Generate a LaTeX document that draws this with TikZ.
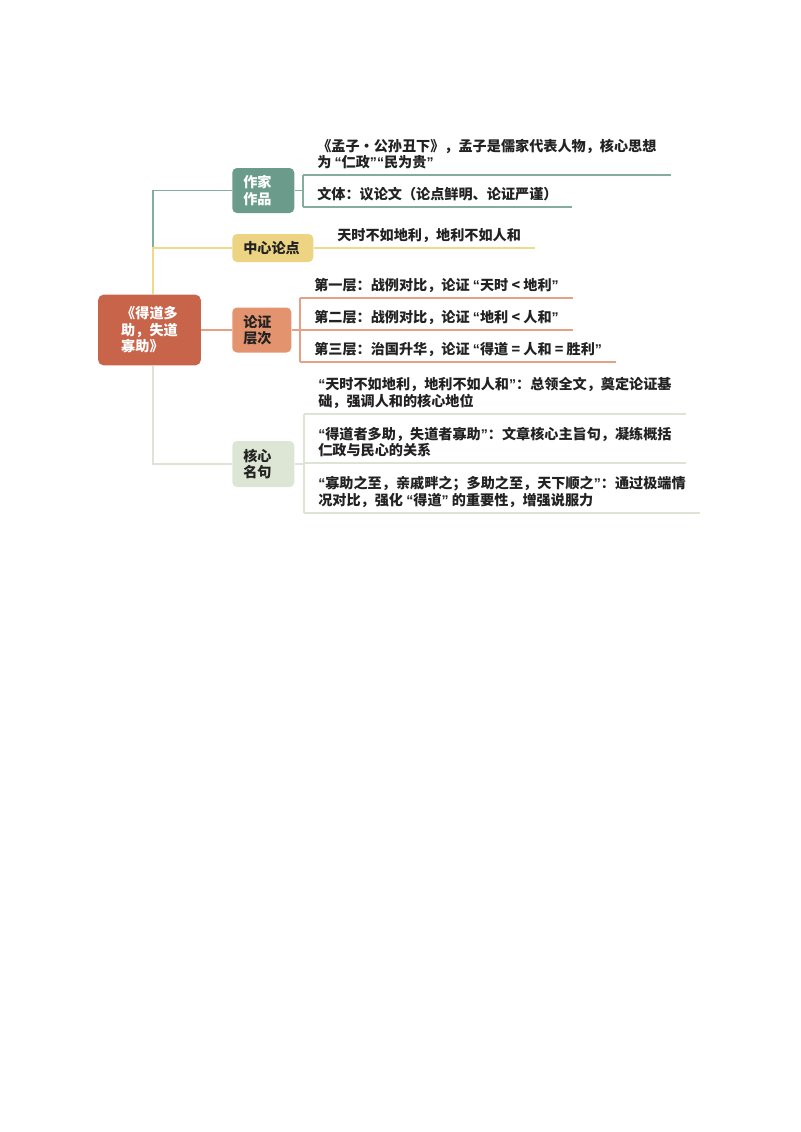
\documentclass[tikz,border=0pt]{standalone}
\usepackage{fontspec}
\usepackage{tikz}
\usetikzlibrary{calc}
\usetikzlibrary{positioning}
\setmainfont{Noto Sans CJK SC}
\newfontfamily\quotefont{Liberation Sans}
\newcommand{\oq}{{\quotefont “}}
\newcommand{\cq}{{\quotefont ”}}
\definecolor{rootred}{HTML}{C8644A}
\definecolor{tealbox}{HTML}{6B9B8B}
\definecolor{tealline}{HTML}{86AC9E}
\definecolor{yellowbox}{HTML}{EDD483}
\definecolor{yellowline}{HTML}{EFD98F}
\definecolor{orangebox}{HTML}{E4936F}
\definecolor{orangeline}{HTML}{E6A083}
\definecolor{greenbox}{HTML}{DDE6D4}
\definecolor{greenline}{HTML}{DDE4D6}
\definecolor{darktext}{HTML}{222222}

\begin{document}
\begin{tikzpicture}
			[
			x=0.75pt, y=-0.75pt,
			font=\fontsize{10.6pt}{12.4pt}\selectfont\bfseries,
			text=darktext
			]
			
			% Box styles: root, main topic, leaf
			\tikzstyle{root node}=[rectangle,rounded corners=4pt,fill=rootred,text=white,minimum width=77pt,minimum height=53pt,align=left];
			\tikzstyle{main node}=[rectangle,rounded corners=3.5pt,anchor=west,inner xsep=8.25pt,inner ysep=0pt,align=left];
			\tikzstyle{leaf node}=[anchor=south west,inner xsep=10.5pt,inner ysep=4pt,align=left];
			
			% Line widths for branches and leaves
			\tikzstyle{branch}=[line width=1.3pt];
			\tikzstyle{twig}=[line width=1pt];
			
			\useasboundingbox (0,0) rectangle (800,1132);
			
			% The root
			\node(root)[root node] at (149.5,330){《得道多\\助，失道\\寡助》};
			
			% Main topics
			\node(zuojia)[main node,fill=tealbox,text=white,text width=30pt,minimum height=33.75pt] at (232,190.5){作家\\作品};
			\node(zhongxin)[main node,fill=yellowbox,text width=44.25pt,minimum height=21pt] at (232,248){中心论点};
			\node(lunzheng)[main node,fill=orangebox,text width=27.75pt,minimum height=33.75pt] at (232,330){论证\\层次};
			\node(hexin)[main node,fill=greenbox,text width=30pt,minimum height=34.5pt] at (232,464){核心\\名句};
			
			% Root to main topics
			\draw[branch,tealline]([xshift=2.6pt]root.north) |- (zuojia.west);
			\draw[branch,yellowline]([xshift=2.6pt]root.north) |- (zhongxin.west);
			\draw[branch,orangeline](root.east) -- (lunzheng.west);
			\draw[branch,greenline]([xshift=2.6pt]root.south) |- (hexin.west);
			
			% Leaves
			% author and work
			\node(zj1)[leaf node] at (303,175){《孟子·公孙丑下》，孟子是儒家代表人物，核心思想\\为 \oq 仁政\cq\oq 民为贵\cq};
			\node(zj2)[leaf node] at (303,207){文体：议论文（论点鲜明、论证严谨）};
			\draw[twig,tealline](zuojia.east) -- (zuojia.east -| zj1.south west);
			\draw[twig,tealline](zj1.south west) -- (zj2.south west);
			\foreach \x in {1, 2} \draw[twig,tealline](zj\x.south west) -- (zj\x.south east);
			
			% central thesis
			\node(zx1)[leaf node] at (323,248){天时不如地利，地利不如人和};
			\draw[twig,yellowline](zhongxin.east) -- (zx1.south east);
			
			% argument levels
			\node(lz1)[leaf node] at (300,298){第一层：战例对比，论证 \oq 天时 < 地利\cq};
			\node(lz2)[leaf node] at (300,330){第二层：战例对比，论证 \oq 地利 < 人和\cq};
			\node(lz3)[leaf node] at (300,362){第三层：治国升华，论证 \oq 得道 = 人和 = 胜利\cq};
			\draw[twig,orangeline](lunzheng.east) -- (lunzheng.east -| lz1.south west);
			\draw[twig,orangeline](lz1.south west) -- (lz3.south west);
			\foreach \x in {1, 2, 3} \draw[twig,orangeline](lz\x.south west) -- (lz\x.south east);
			
			% key sentences
			\node(hx1)[leaf node] at (304,414){\oq 天时不如地利，地利不如人和\cq：总领全文，奠定论证基\\础，强调人和的核心地位};
			\node(hx2)[leaf node] at (304,463){\oq 得道者多助，失道者寡助\cq：文章核心主旨句，凝练概括\\仁政与民心的关系};
			\node(hx3)[leaf node] at (304,513){\oq 寡助之至，亲戚畔之；多助之至，天下顺之\cq：通过极端情\\况对比，强化 \oq 得道\cq\ 的重要性，增强说服力};
			\draw[twig,greenline](hexin.east) -- (hexin.east -| hx1.south west);
			\draw[twig,greenline](hx1.south west) -- (hx3.south west);
			\foreach \x in {1, 2, 3} \draw[twig,greenline](hx\x.south west) -- (hx\x.south east);
			\end{tikzpicture}
\end{document}
